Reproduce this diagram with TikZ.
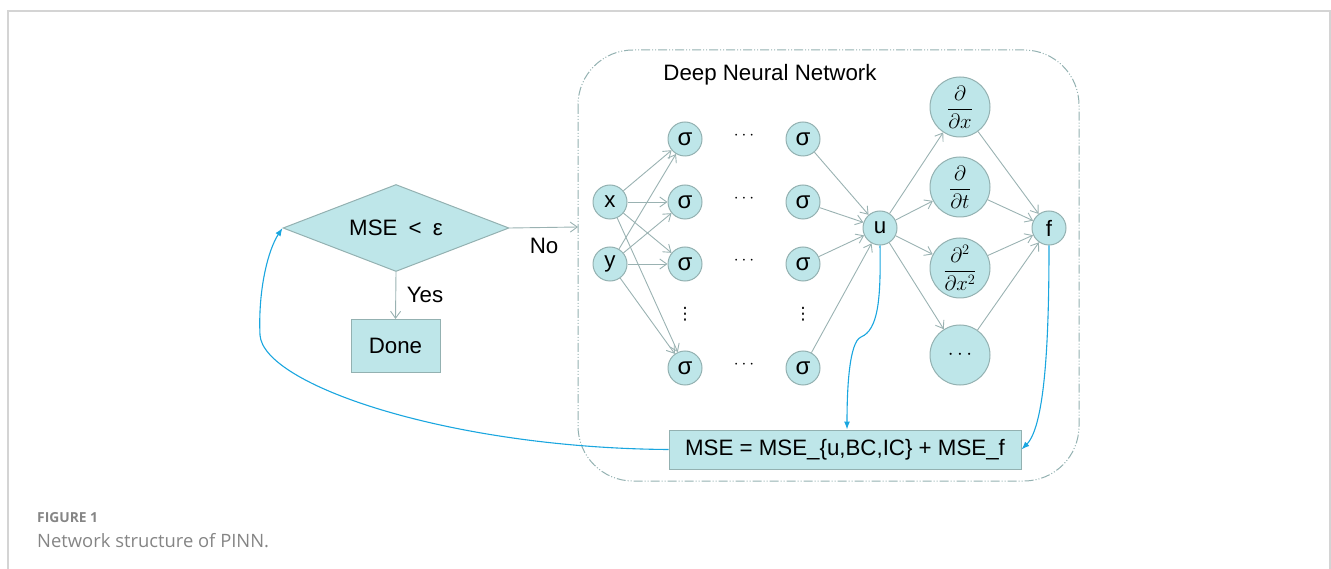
\documentclass[tikz,border=0pt]{standalone}
\usepackage{fontspec}
\setmainfont{Liberation Sans}
\newfontfamily\capfont{Open Sans}
\newfontfamily\djv{DejaVu Sans}
\usetikzlibrary{shapes.geometric,arrows.meta}
\definecolor{nfill}{HTML}{BEE6E9}
\definecolor{ndraw}{HTML}{93B1B1}
\definecolor{garrow}{HTML}{9AB2B2}
\definecolor{bline}{HTML}{1AA6DF}
\definecolor{frame}{HTML}{D4D4D4}
\definecolor{capgray}{HTML}{858585}
\begin{document}
\begin{tikzpicture}[x=1pt,y=-1pt,
  every node/.style={font=\fontsize{22.3}{25}\selectfont},
  neuron/.style={circle,fill=nfill,draw=ndraw,line width=1pt,minimum size=34pt,inner sep=0pt},
  dnode/.style={circle,fill=nfill,draw=ndraw,line width=1pt,minimum size=60pt,inner sep=0pt},
  boxnode/.style={rectangle,fill=nfill,draw=ndraw,line width=1pt,inner sep=0pt},
  garr/.style={draw=garrow,line width=0.9pt,-{Straight Barb[length=7pt,width=10pt]}},
  barr/.style={draw=bline,line width=1.1pt,-{Latex[length=8pt,width=6pt]}},
  dotsl/.style={inner sep=0pt,font=\fontsize{18}{20}\selectfont},
  vdotsl/.style={inner sep=0pt,font=\djv\fontsize{17}{20}\selectfont}
]
\useasboundingbox (0,0) rectangle (1331,569);
% page frame
\draw[frame,line width=1.2pt] (8,569) -- (8,11) -- (1330,11) -- (1330,569);
% dashed network box
\draw[ndraw,line width=1pt,dash pattern=on 9pt off 2pt on 1pt off 2pt on 1pt off 2pt,rounded corners=55pt]
  (578,50) rectangle (1079,481);
\node (title) at (770,75) {Deep Neural Network};
% decision and done
\node[diamond,aspect=2.6,fill=nfill,draw=ndraw,line width=1pt,minimum width=226pt,minimum height=87pt,inner sep=0pt] (dia) at (396,228) {MSE\enspace<\enspace ε};
\node[boxnode,minimum width=89pt,minimum height=53pt] (done) at (395.5,346) {Done};
\coordinate (netin) at (578,227);
\draw[garr] (dia.east) -- (netin);
\node at (544,246) {No};
\draw[garr] (dia.south) -- (done.north);
\node at (425,295) {Yes};
% inputs
\node[neuron] (x) at (610,202) {x};
\node[neuron] (y) at (610,264) {y};
% hidden layers
\foreach \n/\yy in {1/139,2/202,3/264,4/368}{
  \node[neuron,font=\fontsize{24}{26}\selectfont] (a\n) at (685,\yy) {σ};
  \node[neuron,font=\fontsize{24}{26}\selectfont] (b\n) at (803,\yy) {σ};
  \node[dotsl] (h\n) at (744,\yy-3) {$\cdots$};
}
\node[vdotsl] (v1) at (685,314) {⋮};
\node[vdotsl] (v2) at (803,314) {⋮};
\node[neuron] (u) at (880,228) {u};
\node[neuron] (f) at (1049,228) {f};
% derivative nodes
\node[dnode] (d1) at (960,107) {$\displaystyle\frac{\partial}{\partial x}$};
\node[dnode] (d2) at (960,187) {$\displaystyle\frac{\partial}{\partial t}$};
\node[dnode] (d3) at (960,268) {$\displaystyle\frac{\partial^2}{\partial x^2}$};
\node[dnode] (d4) at (960,355) {$\cdots$};
% MSE box
\node[boxnode,minimum width=352pt,minimum height=39pt] (mse) at (845,449.5) {MSE = MSE\_\{u,BC,IC\} + MSE\_f};
% connections
\foreach \s in {x,y}{
  \foreach \n in {1,2,3,4}{
    \draw[garr] (\s) -- (a\n);
  }
}
\foreach \n in {1,2,3,4}{
  \draw[garr] (b\n) -- (u);
  \draw[garr] (u) -- (d\n);
  \draw[garr] (d\n) -- (f);
}
% blue feedback lines
\draw[barr] (u.south) .. controls (881,300) and (878,330) .. (861,337)
  .. controls (849,342) and (847,390) .. (mse.north -| 847,0);
\draw[barr] (f.south) .. controls (1049,330) and (1046,425) .. (mse.east);
\draw[barr] (mse.west) .. controls (450,448) and (263,385) .. (260,335)
  .. controls (258,290) and (268,250) .. (dia.west);
% caption
\node[anchor=base west,inner sep=0pt,font=\capfont\fontsize{13.8}{16}\selectfont\bfseries,text=capgray] (cap1) at (37,522) {FIGURE 1};
\node[anchor=base west,inner sep=0pt,font=\capfont\fontsize{18.4}{21}\selectfont,text=capgray] (cap2) at (37,547) {Network structure of PINN.};
\end{tikzpicture}
\end{document}
